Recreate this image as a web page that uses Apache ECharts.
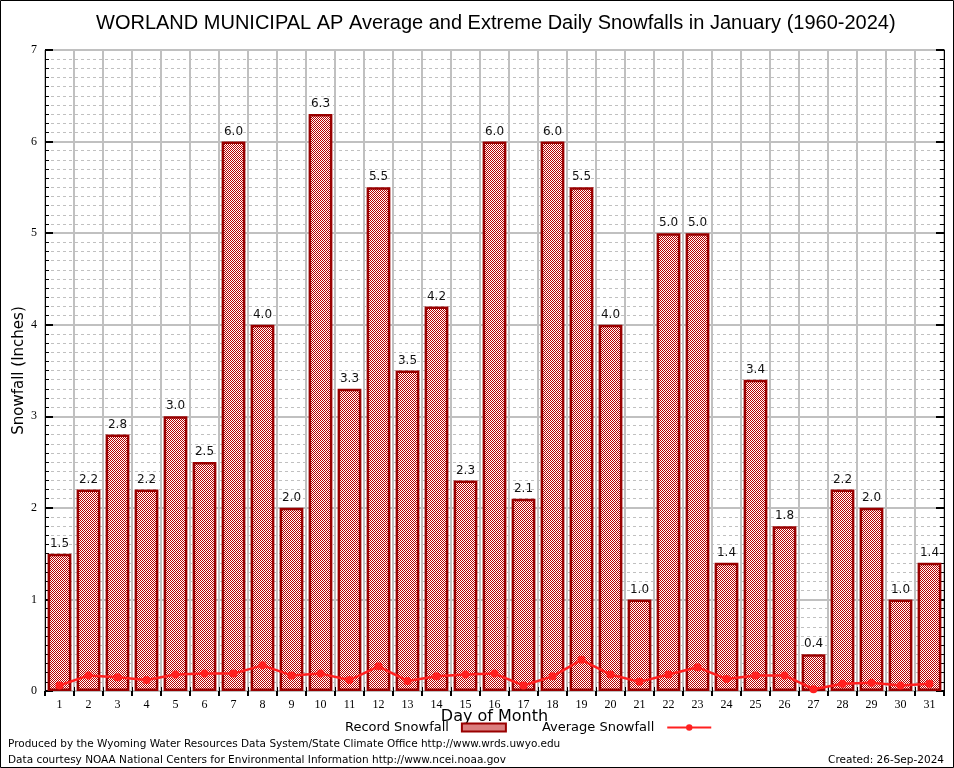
<!DOCTYPE html>
<html><head><meta charset="utf-8">
<script src="https://cdn.jsdelivr.net/npm/echarts@6/dist/echarts.min.js"></script>
<style>html,body{margin:0;padding:0;background:#fff}#c{width:954px;height:768px}</style>
</head><body><div id="c"></div>
<script>
const days = ['1','2','3','4','5','6','7','8','9','10','11','12','13','14','15','16','17','18','19','20','21','22','23','24','25','26','27','28','29','30','31'];
const recordSnowfall = [1.5,2.2,2.8,2.2,3.0,2.5,6.0,4.0,2.0,6.3,3.3,5.5,3.5,4.2,2.3,6.0,2.1,6.0,5.5,4.0,1.0,5.0,5.0,1.4,3.4,1.8,0.4,2.2,2.0,1.0,1.4];
const averageSnowfall = [0.06,0.17,0.15,0.12,0.18,0.19,0.19,0.28,0.17,0.19,0.12,0.27,0.11,0.16,0.18,0.19,0.06,0.16,0.34,0.18,0.10,0.18,0.26,0.13,0.17,0.17,0.02,0.08,0.09,0.06,0.08];
const yTicks = [0,1,2,3,4,5,6,7];

const pc = document.createElement('canvas');
pc.width = 2; pc.height = 2;
const pctx = pc.getContext('2d');
pctx.fillStyle = '#ffffff'; pctx.fillRect(0,0,2,2);
pctx.fillStyle = '#b80000'; pctx.fillRect(0,0,1,1); pctx.fillRect(1,1,1,1);
const pattern = {image: pc, repeat: 'repeat'};

const chart = echarts.init(document.getElementById('c'), null, {renderer: 'canvas'});
const serif = 'Liberation Serif';
const sans = 'DejaVu Sans';
chart.setOption({
  animation: false,
  backgroundColor: '#fff',
  title: {
    text: 'WORLAND MUNICIPAL AP Average and Extreme Daily Snowfalls in January (1960-2024)',
    left: 91, top: 8,
    textStyle: {fontFamily: 'Liberation Sans', fontSize: 20, fontWeight: 'normal', color: '#000'}
  },
  legend: {
    bottom: 29, left: 340, align: 'right', itemGap: 35, itemWidth: 44, itemHeight: 8,
    textStyle: {fontFamily: sans, fontSize: 13, color: '#000', padding: [0, 8, 0, 0]},
    data: [{name: 'Record Snowfall', icon: 'rect', itemStyle: {color: pattern, borderColor: '#990000', borderWidth: 2}}, {name: 'Average Snowfall'}]
  },
  grid: {left: 45, right: 10, top: 50, bottom: 77, containLabel: false, outerBoundsMode: 'none'},
  xAxis: [{
    type: 'category', data: days, boundaryGap: true, position: 'bottom',
    name: 'Day of Month', nameLocation: 'middle', nameGap: 18, nameMoveOverlap: false,
    nameTextStyle: {fontFamily: sans, fontSize: 16, color: '#000'},
    axisLine: {show: true, lineStyle: {color: '#000', width: 1}},
    axisTick: {show: true, inside: true, length: 4, lineStyle: {color: '#000'}},
    axisLabel: {fontFamily: serif, fontSize: 12, color: '#000', margin: 8, interval: 0},
    splitLine: {show: true, lineStyle: {color: '#c0c0c0', width: 2}}
  }, {
    type: 'category', data: days, boundaryGap: true, position: 'top',
    axisLine: {show: true, lineStyle: {color: '#c0c0c0', width: 2}},
    axisTick: {show: true, inside: true, length: 5, lineStyle: {color: '#000', width: 2}},
    axisLabel: {show: false}, splitLine: {show: false}
  }],
  yAxis: [{
    type: 'value', min: 0, max: 7, interval: 1, position: 'left',
    name: 'Snowfall (Inches)', nameLocation: 'middle', nameGap: 18, nameMoveOverlap: false,
    nameTextStyle: {fontFamily: sans, fontSize: 15, color: '#000'},
    axisLine: {show: true, lineStyle: {color: '#000', width: 1}},
    axisTick: {show: true, inside: true, length: 8, lineStyle: {color: '#000', width: 2}},
    minorTick: {show: true, splitNumber: 10, length: 4, lineStyle: {color: '#000'}},
    axisLabel: {fontFamily: serif, fontSize: 12, color: '#000', margin: 8},
    splitLine: {show: true, lineStyle: {color: '#c0c0c0', width: 2}},
    minorSplitLine: {show: true, lineStyle: {color: '#c0c0c0', width: 1, type: [3,3]}}
  }, {
    type: 'value', min: 0, max: 7, interval: 1, position: 'right',
    axisLine: {show: true, lineStyle: {color: '#000', width: 1}},
    axisTick: {show: true, inside: true, length: 8, lineStyle: {color: '#000', width: 2}},
    minorTick: {show: true, splitNumber: 10, length: 4, lineStyle: {color: '#000'}},
    axisLabel: {show: false}, splitLine: {show: false}
  }],
  series: [{
    name: 'Record Snowfall', type: 'bar', data: recordSnowfall, barWidth: '82%',
    itemStyle: {color: pattern, borderColor: '#990000', borderWidth: 2.5},
    label: {show: true, position: 'top', distance: 4, fontFamily: sans, fontSize: 12, color: '#111',
      formatter: p => p.value.toFixed(1)},
    z: 2
  }, {
    name: 'Average Snowfall', type: 'line', data: averageSnowfall,
    symbol: 'circle', symbolSize: 8,
    lineStyle: {color: '#ff2020', width: 2.5},
    itemStyle: {color: '#ff2020'},
    z: 5
  }],
  graphic: [
    {type: 'rect', shape: {x: 0.5, y: 0.5, width: 953, height: 767}, style: {fill: 'none', stroke: '#000', lineWidth: 1}, silent: true},
    {type: 'text', left: 8, top: 739, style: {text: 'Produced by the Wyoming Water Resources Data System/State Climate Office http://www.wrds.uwyo.edu', font: '10.5px "DejaVu Sans"', fill: '#000'}},
    {type: 'text', left: 8, top: 755, style: {text: 'Data courtesy NOAA National Centers for Environmental Information http://www.ncei.noaa.gov', font: '10.5px "DejaVu Sans"', fill: '#000'}},
    {type: 'text', right: 10, top: 755, style: {text: 'Created: 26-Sep-2024', font: '10.5px "DejaVu Sans"', fill: '#000'}}
  ]
});
</script></body></html>
